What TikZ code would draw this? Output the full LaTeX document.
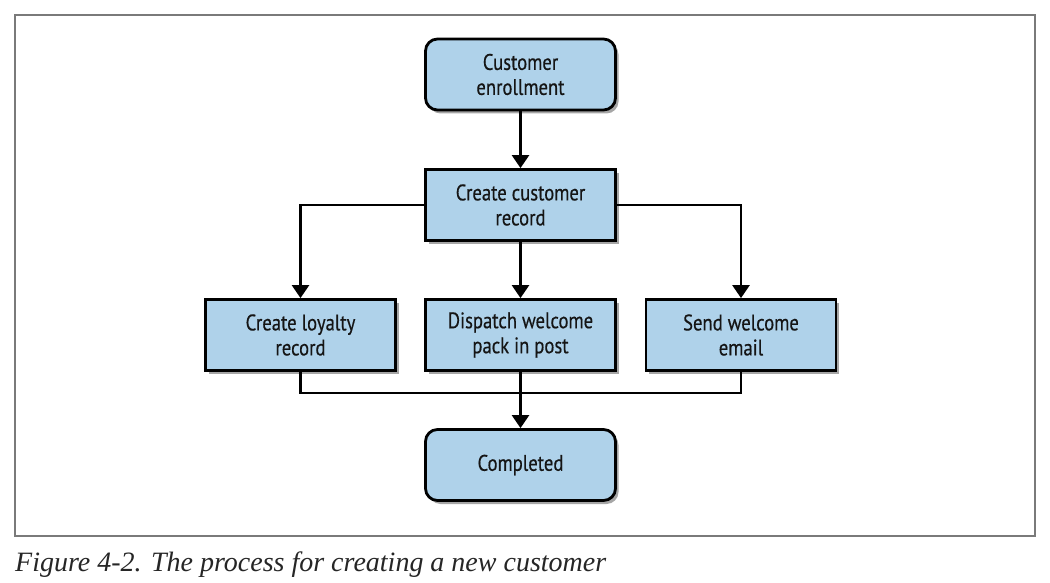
\documentclass[tikz,border=0pt]{standalone}
\usepackage{fontspec}
\setmainfont{PT Sans}[FakeStretch=0.83, FakeBold=0.4]
\newfontfamily\capfont{Liberation Serif}
\usetikzlibrary{arrows.meta,shadows}
\definecolor{boxfill}{HTML}{AFD2EA}
\definecolor{boxtext}{HTML}{151515}
\definecolor{framegray}{HTML}{7A7A7A}
\tikzset{
  stepbox/.style={draw=black, line width=2.8pt, fill=boxfill, text=boxtext,
    minimum width=190pt, minimum height=71pt, align=center,
    font=\fontsize{22.5}{25}\selectfont,
    drop shadow={shadow xshift=3pt, shadow yshift=-3.5pt, opacity=0.35, fill=black}},
  termbox/.style={stepbox, rounded corners=12pt},
  conn/.style={draw=black, line width=2.6pt},
  arr/.style={conn, -{Triangle[length=13pt,width=17pt]}},
}
\begin{document}
\begin{tikzpicture}[x=1pt,y=-1pt]
\useasboundingbox (0,0) rectangle (1050,583);
\fill[white] (0,0) rectangle (1050,583);
\draw[framegray, line width=1.3pt] (15,15) rectangle (1035,536);

\node[termbox] (enroll) at (520.5,74.5) {Customer\\enrollment};
\node[stepbox] (record) at (520.5,205) {Create customer\\record};
\node[stepbox] (loyal) at (300.5,335) {Create loyalty\\record};
\node[stepbox] (dispatch) at (520.5,335) {Dispatch welcome\\pack in post};
\node[stepbox] (email) at (741,335) {Send welcome\\email};
\node[termbox] (done) at (520.5,465) {Completed};
\coordinate (join) at (520.5,393);

\draw[arr] (enroll) -- (record);
\draw[arr] (record.west) -| (loyal.north);
\draw[arr] (record.east) -| (email.north);
\draw[arr] (record) -- (dispatch);
\draw[conn] (loyal.south) |- (join) -| (email.south);
\draw[arr] (dispatch.south) -- (done.north);

\node[anchor=base west, inner sep=0pt, font=\capfont\itshape\fontsize{28}{30}\selectfont, text=black!85] (cap) at (15,571) {Figure 4-2. The process for creating a new customer};
\end{tikzpicture}
\end{document}
